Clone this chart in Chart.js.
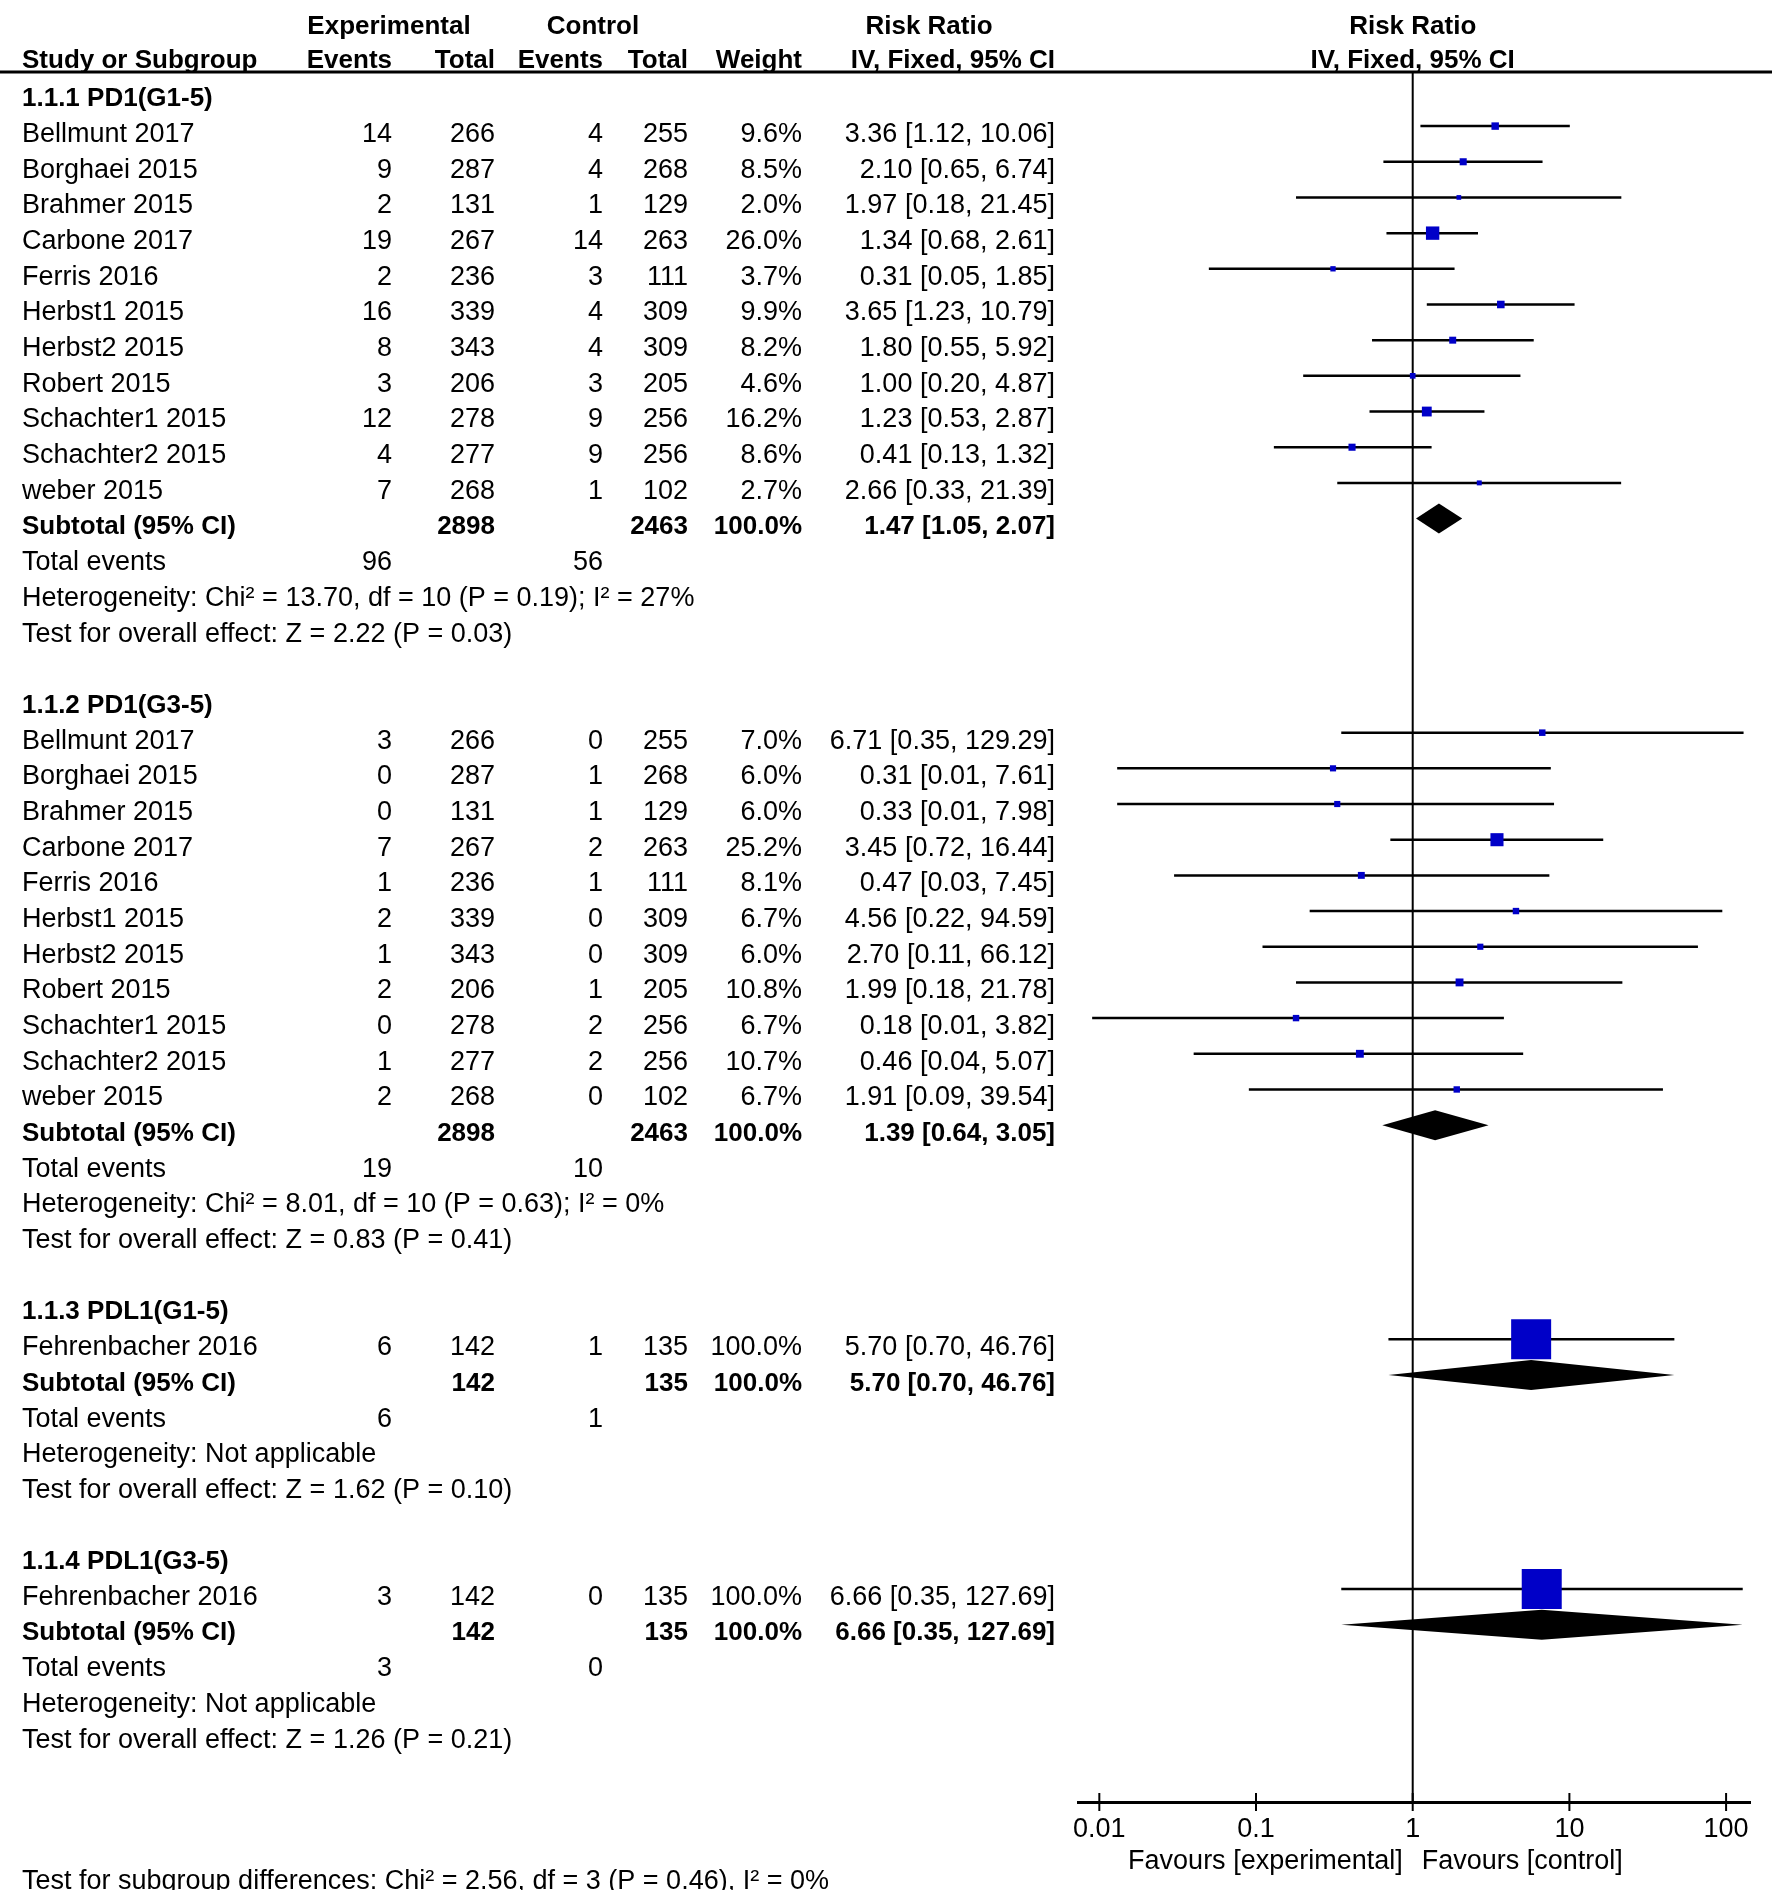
<!DOCTYPE html>
<html lang="en">
<head>
<meta charset="UTF-8">
<title>Forest plot - Risk Ratio</title>
<script src="https://cdn.jsdelivr.net/npm/chart.js@4.4.0/dist/chart.umd.min.js"></script>
<style>
  html, body { margin: 0; padding: 0; background: #fff; }
  canvas { display: block; }
</style>
</head>
<body>
<canvas id="chart" width="1772" height="1890"></canvas>
<script>
// subgroups
const groupTitles = ['1.1.1 PD1(G1-5)', '1.1.2 PD1(G3-5)', '1.1.3 PDL1(G1-5)', '1.1.4 PDL1(G3-5)'];
const groupSizes = [11, 11, 1, 1];

// study rows, in order
const studyNames = [
  'Bellmunt 2017', 'Borghaei 2015', 'Brahmer 2015', 'Carbone 2017', 'Ferris 2016', 'Herbst1 2015',
  'Herbst2 2015', 'Robert 2015', 'Schachter1 2015', 'Schachter2 2015', 'weber 2015',
  'Bellmunt 2017', 'Borghaei 2015', 'Brahmer 2015', 'Carbone 2017', 'Ferris 2016', 'Herbst1 2015',
  'Herbst2 2015', 'Robert 2015', 'Schachter1 2015', 'Schachter2 2015', 'weber 2015',
  'Fehrenbacher 2016',
  'Fehrenbacher 2016'
];
const expEvents  = [14, 9, 2, 19, 2, 16, 8, 3, 12, 4, 7,   3, 0, 0, 7, 1, 2, 1, 2, 0, 1, 2,   6,   3];
const expTotal   = [266, 287, 131, 267, 236, 339, 343, 206, 278, 277, 268,
                    266, 287, 131, 267, 236, 339, 343, 206, 278, 277, 268,   142,   142];
const ctrlEvents = [4, 4, 1, 14, 3, 4, 4, 3, 9, 9, 1,   0, 1, 1, 2, 1, 0, 0, 1, 2, 2, 0,   1,   0];
const ctrlTotal  = [255, 268, 129, 263, 111, 309, 309, 205, 256, 256, 102,
                    255, 268, 129, 263, 111, 309, 309, 205, 256, 256, 102,   135,   135];
const weightPct  = [9.6, 8.5, 2.0, 26.0, 3.7, 9.9, 8.2, 4.6, 16.2, 8.6, 2.7,
                    7.0, 6.0, 6.0, 25.2, 8.1, 6.7, 6.0, 10.8, 6.7, 10.7, 6.7,   100.0,   100.0];
const riskRatio  = [3.36, 2.10, 1.97, 1.34, 0.31, 3.65, 1.80, 1.00, 1.23, 0.41, 2.66,
                    6.71, 0.31, 0.33, 3.45, 0.47, 4.56, 2.70, 1.99, 0.18, 0.46, 1.91,   5.70,   6.66];
const ciLower    = [1.12, 0.65, 0.18, 0.68, 0.05, 1.23, 0.55, 0.20, 0.53, 0.13, 0.33,
                    0.35, 0.013, 0.013, 0.72, 0.03, 0.22, 0.11, 0.18, 0.009, 0.04, 0.09,   0.70,   0.35];
const ciUpper    = [10.06, 6.74, 21.45, 2.61, 1.85, 10.79, 5.92, 4.87, 2.87, 1.32, 21.39,
                    129.29, 7.61, 7.98, 16.44, 7.45, 94.59, 66.12, 21.78, 3.82, 5.07, 39.54,   46.76,   127.69];

// subgroup totals
const subExpTotal  = [2898, 2898, 142, 142];
const subCtrlTotal = [2463, 2463, 135, 135];
const subRR        = [1.47, 1.39, 5.70, 6.66];
const subLower     = [1.05, 0.64, 0.70, 0.35];
const subUpper     = [2.07, 3.05, 46.76, 127.69];
const totalExpEvents  = [96, 19, 6, 3];
const totalCtrlEvents = [56, 10, 1, 0];
const hetText = [
  'Heterogeneity: Chi\u00b2 = 13.70, df = 10 (P = 0.19); I\u00b2 = 27%',
  'Heterogeneity: Chi\u00b2 = 8.01, df = 10 (P = 0.63); I\u00b2 = 0%',
  'Heterogeneity: Not applicable',
  'Heterogeneity: Not applicable'
];
const effectText = [
  'Test for overall effect: Z = 2.22 (P = 0.03)',
  'Test for overall effect: Z = 0.83 (P = 0.41)',
  'Test for overall effect: Z = 1.62 (P = 0.10)',
  'Test for overall effect: Z = 1.26 (P = 0.21)'
];
const subgroupDiffText = 'Test for subgroup differences: Chi\u00b2 = 2.56, df = 3 (P = 0.46), I\u00b2 = 0%';

// x axis
const tickValues = [0.01, 0.1, 1, 10, 100];
const tickLabels = ['0.01', '0.1', '1', '10', '100'];

// ---- row layout (one row index per text line) ----
const rows = [];
const studyRow = [];
const subtotalRow = [];
let r = 0, s = 0;
groupTitles.forEach((t, g) => {
  rows.push({ kind: 'title', g, row: r++ });
  for (let k = 0; k < groupSizes[g]; k++) {
    studyRow[s] = r;
    rows.push({ kind: 'study', s: s++, row: r++ });
  }
  subtotalRow[g] = r;
  rows.push({ kind: 'subtotal', g, row: r++ });
  rows.push({ kind: 'events', g, row: r++ });
  rows.push({ kind: 'het', g, row: r++ });
  rows.push({ kind: 'effect', g, row: r++ });
  r++;
});

const Y_TOP = -0.516, Y_BOTTOM = 47.97;
const FONT = '"Liberation Sans", Arial, sans-serif';
const BLUE = '#0000c8';
const COL = { name: 22, expEv: 392, expTot: 495, ctlEv: 603, ctlTot: 688, weight: 802, ci: 1055 };
const TEXT_DY = 8.5;

const fmt2 = v => v.toFixed(2);
const ciLabel = (rr, lo, hi) => fmt2(rr) + ' [' + fmt2(lo) + ', ' + fmt2(hi) + ']';

// data for the library
const squarePoints = riskRatio.map((v, i) => ({ x: v, y: studyRow[i] }));
const squareRadius = weightPct.map(w => (4 + 0.36 * w) / Math.SQRT2);
const ciPoints = [];
ciLower.forEach((lo, i) => {
  ciPoints.push({ x: lo, y: studyRow[i] }, { x: ciUpper[i], y: studyRow[i] }, { x: null, y: null });
});
const refPoints = [{ x: 1, y: Y_TOP }, { x: 1, y: Y_BOTTOM }];

const diamonds = {
  id: 'diamonds',
  afterDatasetsDraw(chart) {
    const { ctx, scales: { x, y } } = chart;
    ctx.save();
    ctx.fillStyle = '#000';
    subRR.forEach((v, g) => {
      const cy = y.getPixelForValue(subtotalRow[g]);
      const l = x.getPixelForValue(subLower[g]);
      const c = x.getPixelForValue(v);
      const rt = x.getPixelForValue(subUpper[g]);
      ctx.beginPath();
      ctx.moveTo(l, cy);
      ctx.lineTo(c, cy - 15);
      ctx.lineTo(rt, cy);
      ctx.lineTo(c, cy + 15);
      ctx.closePath();
      ctx.fill();
    });
    ctx.restore();
  }
};

const table = {
  id: 'table',
  afterDraw(chart) {
    const { ctx, chartArea, scales: { x, y } } = chart;
    const x1 = x.getPixelForValue(1);
    ctx.save();
    ctx.fillStyle = '#000';
    ctx.textBaseline = 'middle';
    const put = (str, px, py, align, bold) => {
      ctx.font = (bold ? 'bold 26px ' : '27px ') + FONT;
      ctx.textAlign = align;
      ctx.fillText(str, px, py);
    };

    // header
    put('Experimental', 389, 27, 'center', true);
    put('Control', 593, 27, 'center', true);
    put('Risk Ratio', 929, 27, 'center', true);
    put('Risk Ratio', x1, 27, 'center', true);
    put('Study or Subgroup', COL.name, 61, 'left', true);
    put('Events', COL.expEv, 61, 'right', true);
    put('Total', COL.expTot, 61, 'right', true);
    put('Events', COL.ctlEv, 61, 'right', true);
    put('Total', COL.ctlTot, 61, 'right', true);
    put('Weight', COL.weight, 61, 'right', true);
    put('IV, Fixed, 95% CI', COL.ci, 61, 'right', true);
    put('IV, Fixed, 95% CI', x1, 61, 'center', true);

    ctx.strokeStyle = '#000';
    ctx.lineWidth = 3;
    ctx.beginPath();
    ctx.moveTo(0, chartArea.top);
    ctx.lineTo(chart.width, chartArea.top);
    ctx.stroke();

    rows.forEach(row => {
      const py = y.getPixelForValue(row.row) + TEXT_DY;
      const g = row.g, i = row.s;
      if (row.kind === 'title') {
        put(groupTitles[g], COL.name, py, 'left', true);
      } else if (row.kind === 'study') {
        put(studyNames[i], COL.name, py, 'left');
        put(String(expEvents[i]), COL.expEv, py, 'right');
        put(String(expTotal[i]), COL.expTot, py, 'right');
        put(String(ctrlEvents[i]), COL.ctlEv, py, 'right');
        put(String(ctrlTotal[i]), COL.ctlTot, py, 'right');
        put(weightPct[i].toFixed(1) + '%', COL.weight, py, 'right');
        put(ciLabel(riskRatio[i], ciLower[i], ciUpper[i]), COL.ci, py, 'right');
      } else if (row.kind === 'subtotal') {
        put('Subtotal (95% CI)', COL.name, py, 'left', true);
        put(String(subExpTotal[g]), COL.expTot, py, 'right', true);
        put(String(subCtrlTotal[g]), COL.ctlTot, py, 'right', true);
        put('100.0%', COL.weight, py, 'right', true);
        put(ciLabel(subRR[g], subLower[g], subUpper[g]), COL.ci, py, 'right', true);
      } else if (row.kind === 'events') {
        put('Total events', COL.name, py, 'left');
        put(String(totalExpEvents[g]), COL.expEv, py, 'right');
        put(String(totalCtrlEvents[g]), COL.ctlEv, py, 'right');
      } else if (row.kind === 'het') {
        put(hetText[g], COL.name, py, 'left');
      } else if (row.kind === 'effect') {
        put(effectText[g], COL.name, py, 'left');
      }
    });

    // tick marks crossing the axis
    ctx.lineWidth = 2;
    x.ticks.forEach(t => {
      const px = x.getPixelForValue(t.value);
      ctx.beginPath();
      ctx.moveTo(px, chartArea.bottom - 9);
      ctx.lineTo(px, chartArea.bottom + 9);
      ctx.stroke();
    });

    put('Favours [experimental]', x1 - 10, 1862, 'right');
    put('Favours [control]', x1 + 9, 1862, 'left');
    put(subgroupDiffText, COL.name, 1882, 'left');
    ctx.restore();
  }
};

const ctx = document.getElementById('chart').getContext('2d');
new Chart(ctx, {
  type: 'scatter',
  data: {
    datasets: [
      {
        label: 'Studies',
        data: squarePoints,
        pointStyle: 'rect',
        pointRadius: squareRadius,
        pointBackgroundColor: BLUE,
        pointBorderWidth: 0,
        showLine: false
      },
      {
        label: 'CI',
        data: ciPoints,
        showLine: true,
        spanGaps: false,
        borderColor: '#000',
        borderWidth: 2.5,
        pointRadius: 0
      },
      {
        label: 'No effect',
        data: refPoints,
        showLine: true,
        borderColor: '#000',
        borderWidth: 2,
        pointRadius: 0
      }
    ]
  },
  options: {
    responsive: false,
    devicePixelRatio: 1,
    animation: false,
    events: [],
    layout: { autoPadding: false, padding: { top: 72, left: 1078, right: 22, bottom: 0 } },
    plugins: { legend: { display: false }, tooltip: { enabled: false } },
    scales: {
      x: {
        type: 'logarithmic',
        position: 'bottom',
        min: 0.00731,
        max: 142.1,
        bounds: 'data',
        grid: { display: false },
        border: { display: true, color: '#000', width: 3 },
        ticks: {
          color: '#000',
          padding: 3,
          maxRotation: 0,
          autoSkip: false,
          font: { family: 'Liberation Sans', size: 27 },
          callback: v => tickLabels[tickValues.indexOf(v)]
        },
        afterBuildTicks: axis => { axis.ticks = tickValues.map(v => ({ value: v })); },
        afterFit: axis => {
          axis.height = 88;
          axis.paddingLeft = 0;
          axis.paddingRight = 0;
        }
      },
      y: {
        type: 'linear',
        display: false,
        reverse: true,
        min: Y_TOP,
        max: Y_BOTTOM,
        bounds: 'data'
      }
    }
  },
  plugins: [diamonds, table]
});
</script>
</body>
</html>
